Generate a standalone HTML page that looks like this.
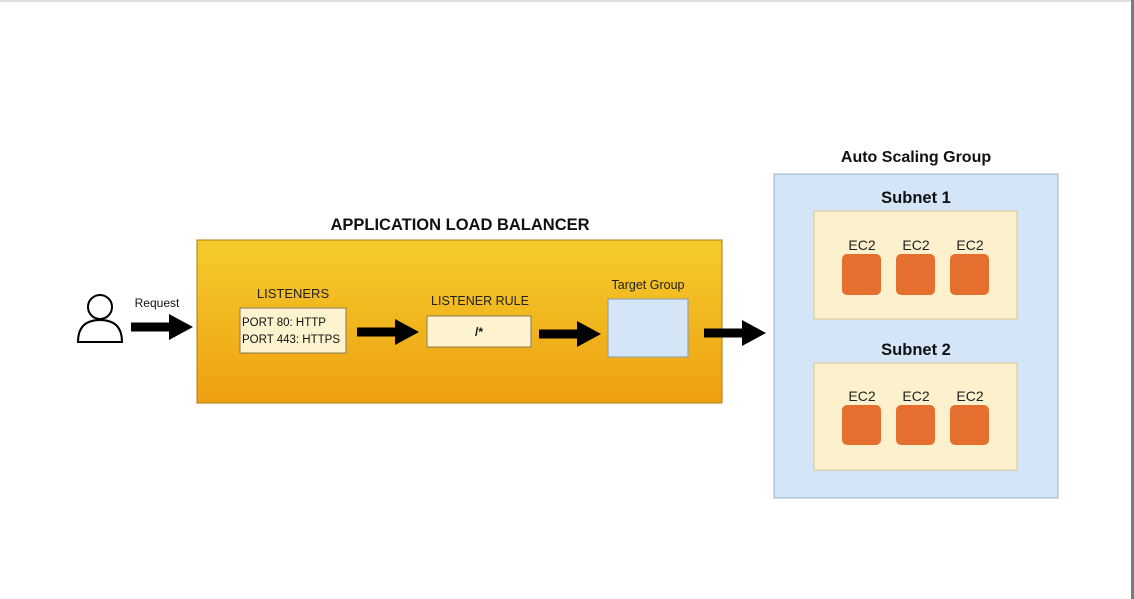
<!DOCTYPE html>
<html><head><meta charset="utf-8"><style>
html,body{margin:0;padding:0;background:#fff;}
body{width:1134px;height:599px;overflow:hidden;position:relative;font-family:"Liberation Sans",Arial,sans-serif;}
</style></head><body>
<svg width="1134" height="599" viewBox="0 0 1134 599" xmlns="http://www.w3.org/2000/svg" style="position:absolute;left:0;top:0" font-family="Liberation Sans, Arial, sans-serif">
<defs>
<linearGradient id="g" x1="0" y1="0" x2="0" y2="1">
<stop offset="0" stop-color="#f5cc2b"/><stop offset="1" stop-color="#eea012"/>
</linearGradient>
<g id="arr"><rect x="0" y="-4.5" width="40" height="9" fill="#000"/><polygon points="38,-13 62,0 38,13" fill="#000"/></g>
</defs>
<rect x="0" y="0" width="1134" height="2" fill="#e0e0e0"/>
<rect x="1131" y="0" width="3" height="599" fill="#7a7a7a"/>

<text x="460" y="230" text-anchor="middle" font-size="16.5" font-weight="bold" fill="#111">APPLICATION LOAD BALANCER</text>
<rect x="197" y="240" width="525" height="163" fill="url(#g)" stroke="#b07a10" stroke-width="1"/>

<circle cx="100" cy="307" r="12" fill="#fff" stroke="#000" stroke-width="2"/>
<path d="M78,342 Q78,320 100,320 Q122,320 122,342 Z" fill="#fff" stroke="#000" stroke-width="2"/>
<text x="157" y="307" text-anchor="middle" font-size="12" fill="#111">Request</text>
<use href="#arr" x="131" y="327"/>

<text x="293" y="298" text-anchor="middle" font-size="13" fill="#222">LISTENERS</text>
<rect x="240" y="308" width="106" height="45" fill="#fdf3cf" stroke="#8a7a50" stroke-width="1"/>
<text x="242" y="326" font-size="11.5" fill="#111">PORT 80: HTTP</text>
<text x="242" y="343" font-size="11.5" fill="#111">PORT 443: HTTPS</text>
<use href="#arr" x="357" y="332"/>

<text x="480" y="305" text-anchor="middle" font-size="12.5" fill="#222">LISTENER RULE</text>
<rect x="427" y="316" width="104" height="31" fill="#fdf3cf" stroke="#8a7a50" stroke-width="1"/>
<text x="479" y="336" text-anchor="middle" font-size="12" font-weight="bold" fill="#111">/*</text>
<use href="#arr" x="539" y="334"/>

<text x="648" y="289" text-anchor="middle" font-size="12.5" fill="#222">Target Group</text>
<rect x="608" y="299" width="80" height="58" fill="#d3e5f7" stroke="#8a9ab0" stroke-width="1"/>
<use href="#arr" x="704" y="333"/>

<text x="916" y="162" text-anchor="middle" font-size="16" font-weight="bold" fill="#111">Auto Scaling Group</text>
<rect x="774" y="174" width="284" height="324" fill="#d3e5f7" stroke="#9ab0c8" stroke-width="1"/>

<text x="916" y="203" text-anchor="middle" font-size="16.5" font-weight="bold" fill="#111">Subnet 1</text>
<rect x="814" y="211" width="203" height="108" fill="#fcf1cc" stroke="#d8c890" stroke-width="1"/>
<text x="862" y="250" text-anchor="middle" font-size="14" fill="#222">EC2</text>
<text x="916" y="250" text-anchor="middle" font-size="14" fill="#222">EC2</text>
<text x="970" y="250" text-anchor="middle" font-size="14" fill="#222">EC2</text>
<rect x="842" y="254" width="39" height="41" rx="5" fill="#e46f2e"/>
<rect x="896" y="254" width="39" height="41" rx="5" fill="#e46f2e"/>
<rect x="950" y="254" width="39" height="41" rx="5" fill="#e46f2e"/>

<text x="916" y="355" text-anchor="middle" font-size="16.5" font-weight="bold" fill="#111">Subnet 2</text>
<rect x="814" y="363" width="203" height="107" fill="#fcf1cc" stroke="#d8c890" stroke-width="1"/>
<text x="862" y="401" text-anchor="middle" font-size="14" fill="#222">EC2</text>
<text x="916" y="401" text-anchor="middle" font-size="14" fill="#222">EC2</text>
<text x="970" y="401" text-anchor="middle" font-size="14" fill="#222">EC2</text>
<rect x="842" y="405" width="39" height="40" rx="5" fill="#e46f2e"/>
<rect x="896" y="405" width="39" height="40" rx="5" fill="#e46f2e"/>
<rect x="950" y="405" width="39" height="40" rx="5" fill="#e46f2e"/>
</svg>
</body></html>
